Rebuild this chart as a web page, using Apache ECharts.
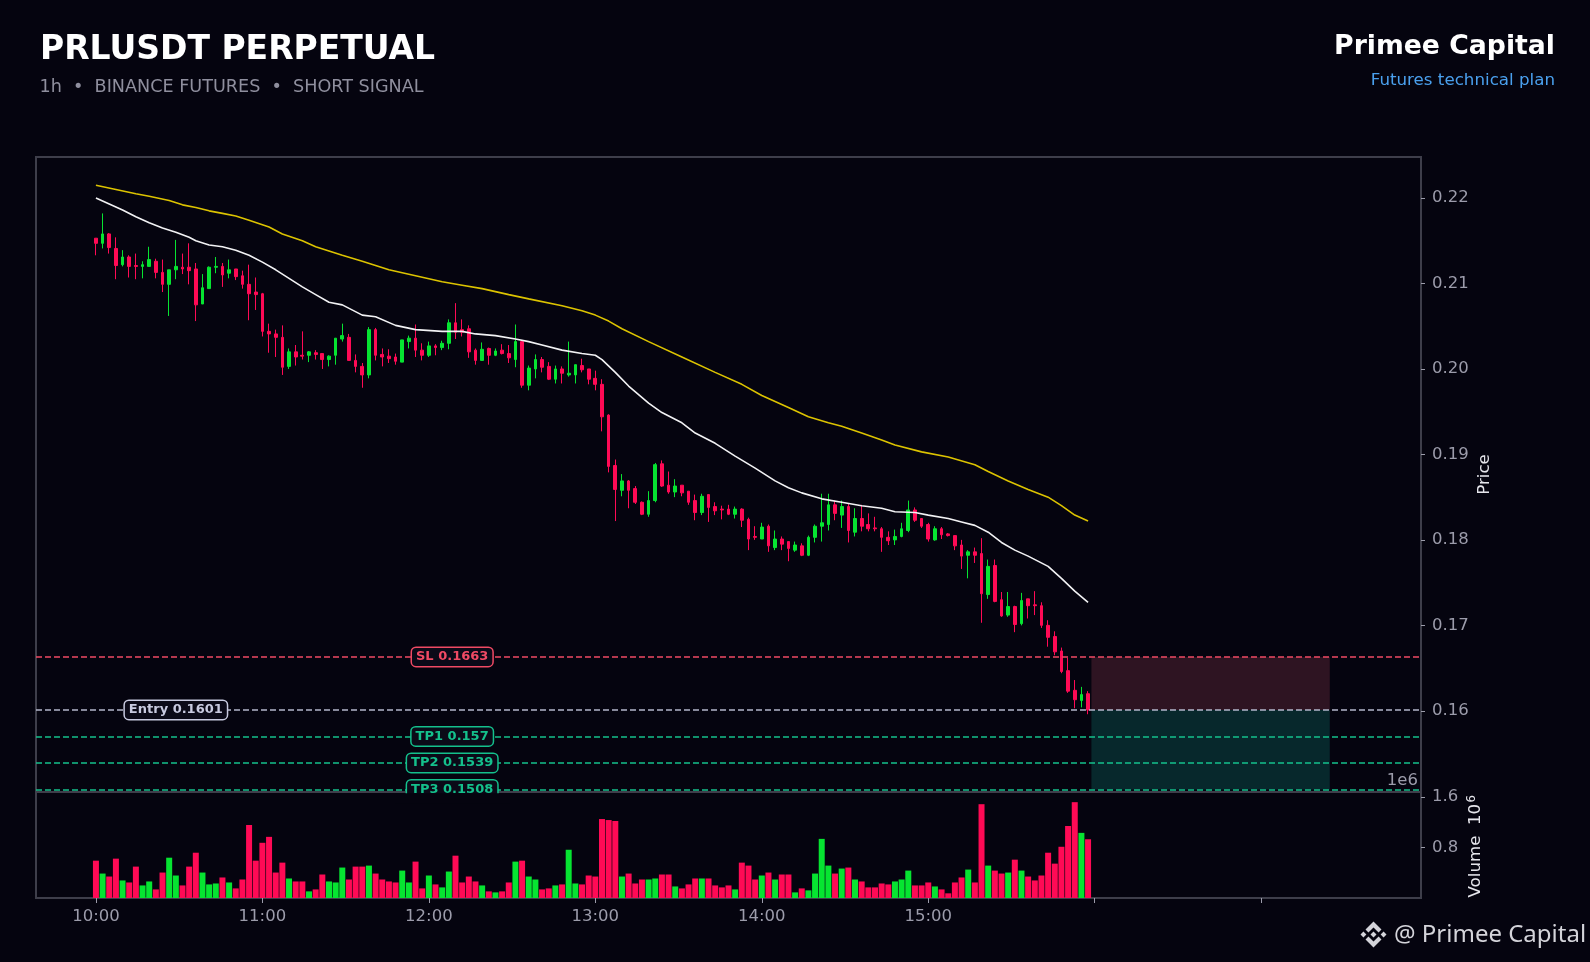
<!DOCTYPE html>
<html>
<head>
<meta charset="utf-8">
<title>PRLUSDT PERPETUAL</title>
<script src="https://cdn.jsdelivr.net/npm/echarts@6.0.0/dist/echarts.min.js"></script>
<style>
html,body{margin:0;padding:0;background:#05040f;}
#chart{width:1590px;height:962px;}
</style>
</head>
<body>
<div id="chart"></div>
<script>
var BG = '#05040f';
var UP = '#06e431';
var DOWN = '#ff0a55';
var FRAME = '#3e3e4a';
var AXIS_TXT = '#9c9cab';
var FONT = '"DejaVu Sans", sans-serif';

// ---- data (1h candles, index 0 = 10:00) ----
var timeLabels = ['10:00', '11:00', '12:00', '13:00', '14:00', '15:00'];
var hourTicks = [0, 25, 50, 75, 100, 125, 150, 175];
var labelTicks = [0, 25, 50, 75, 100, 125];
var priceTicks = [0.16, 0.17, 0.18, 0.19, 0.20, 0.21, 0.22];
var volumeTicks = [0.8, 1.6];

var openP = [
  .2153,.2147,.2158,.2141,.2122,.2131,.2121,.2120,.2120,.2126,
  .2113,.2099,.2116,.2119,.2119,.2117,.2076,.2094,.2119,.2120,
  .2112,.2117,.2109,.2099,.2090,.2088,.2044,.2041,.2037,.2003,
  .2020,.2016,.2016,.2019,.2018,.2011,.2016,.2035,.2037,.2010,
  .2003,.1993,.2046,.2017,.2015,.2014,.2008,.2032,.2036,.2022,
  .2016,.2027,.2025,.2030,.2054,.2046,.2047,.2022,.2010,.2024,
  .2016,.2022,.2018,.2011,.2032,.1981,.2000,.2011,.2003,.1988,
  .2000,.1993,.1993,.2004,.2000,.1989,.1982,.1946,.1887,.1858,
  .1869,.1860,.1844,.1830,.1846,.1889,.1864,.1856,.1864,.1857,
  .1846,.1832,.1853,.1839,.1836,.1836,.1830,.1836,.1824,.1804,
  .1801,.1816,.1791,.1801,.1798,.1788,.1793,.1782,.1803,.1816,
  .1818,.1841,.1829,.1839,.1809,.1825,.1818,.1814,.1813,.1803,
  .1800,.1804,.1811,.1835,.1825,.1818,.1800,.1813,.1807,.1805,
  .1794,.1782,.1786,.1784,.1736,.1770,.1730,.1712,.1722,.1702,
  .1731,.1724,.1723,.1700,.1687,.1670,.1647,.1624,.1612,.1620
];
var highP = [
  .2153,.2182,.2159,.2154,.2139,.2133,.2135,.2126,.2143,.2129,
  .2128,.2116,.2151,.2135,.2147,.2124,.2111,.2120,.2131,.2124,
  .2128,.2117,.2115,.2122,.2107,.2089,.2053,.2046,.2051,.2024,
  .2028,.2044,.2021,.2022,.2018,.2016,.2036,.2053,.2041,.2017,
  .2007,.2049,.2048,.2024,.2023,.2018,.2034,.2039,.2052,.2030,
  .2032,.2029,.2033,.2058,.2077,.2058,.2051,.2024,.2031,.2025,
  .2024,.2029,.2028,.2052,.2032,.2004,.2017,.2014,.2008,.2004,
  .2003,.2032,.2005,.2012,.2000,.1998,.1988,.1947,.1894,.1877,
  .1870,.1863,.1845,.1857,.1890,.1893,.1880,.1871,.1864,.1857,
  .1853,.1854,.1853,.1844,.1840,.1841,.1839,.1837,.1826,.1816,
  .1820,.1818,.1811,.1804,.1798,.1798,.1796,.1805,.1818,.1854,
  .1854,.1846,.1846,.1843,.1837,.1841,.1831,.1827,.1815,.1810,
  .1812,.1820,.1846,.1838,.1825,.1820,.1816,.1815,.1808,.1805,
  .1800,.1788,.1791,.1802,.1777,.1777,.1739,.1739,.1723,.1738,
  .1731,.1740,.1727,.1706,.1693,.1674,.1662,.1636,.1628,.1623
];
var lowP = [
  .2133,.2141,.2135,.2105,.2120,.2107,.2105,.2106,.2120,.2106,
  .2090,.2062,.2105,.2111,.2099,.2056,.2076,.2094,.2112,.2096,
  .2106,.2104,.2094,.2057,.2069,.2038,.2019,.2014,.1993,.2000,
  .2004,.2011,.2008,.2011,.2000,.2003,.2005,.2032,.2010,.1996,
  .1978,.1989,.2010,.2003,.2007,.2005,.2008,.2024,.2014,.2010,
  .2014,.2016,.2022,.2023,.2035,.2038,.2013,.2005,.2010,.2005,
  .2015,.2017,.2007,.2002,.1978,.1975,.1989,.1996,.1987,.1983,
  .1983,.1991,.1983,.1996,.1982,.1975,.1927,.1879,.1822,.1851,
  .1837,.1842,.1829,.1827,.1844,.1862,.1854,.1850,.1851,.1841,
  .1823,.1829,.1821,.1829,.1824,.1829,.1825,.1815,.1788,.1800,
  .1801,.1786,.1788,.1788,.1775,.1786,.1781,.1781,.1797,.1798,
  .1811,.1823,.1814,.1797,.1804,.1810,.1810,.1810,.1786,.1794,
  .1794,.1803,.1809,.1821,.1814,.1798,.1799,.1801,.1804,.1788,
  .1766,.1755,.1773,.1703,.1731,.1727,.1710,.1710,.1692,.1700,
  .1708,.1712,.1697,.1675,.1665,.1644,.1621,.1603,.1604,.1596
];
var closeP = [
  .2147,.2158,.2142,.2121,.2131,.2120,.2120,.2122,.2128,.2113,
  .2099,.2116,.2120,.2117,.2115,.2075,.2095,.2119,.2120,.2110,
  .2116,.2108,.2099,.2088,.2087,.2044,.2041,.2037,.2002,.2020,
  .2014,.2015,.2020,.2017,.2011,.2015,.2036,.2039,.2010,.2003,
  .1993,.2046,.2016,.2014,.2012,.2009,.2034,.2036,.2022,.2016,
  .2027,.2025,.2030,.2054,.2043,.2043,.2020,.2010,.2023,.2016,
  .2021,.2018,.2013,.2032,.1981,.2001,.2011,.2002,.1988,.2000,
  .1995,.1995,.2005,.1999,.1988,.1982,.1944,.1886,.1859,.1869,
  .1858,.1844,.1830,.1846,.1888,.1863,.1856,.1863,.1855,.1844,
  .1832,.1851,.1838,.1834,.1835,.1830,.1836,.1823,.1801,.1803,
  .1815,.1793,.1801,.1795,.1790,.1794,.1782,.1803,.1816,.1820,
  .1841,.1831,.1839,.1811,.1825,.1816,.1813,.1813,.1803,.1799,
  .1804,.1813,.1835,.1823,.1816,.1801,.1813,.1806,.1805,.1793,
  .1781,.1786,.1782,.1737,.1769,.1728,.1711,.1722,.1701,.1729,
  .1723,.1723,.1700,.1686,.1669,.1646,.1623,.1613,.1619,.1601
];
// volume in millions
var volumeM = [
  .591,.387,.340,.623,.278,.246,.497,.199,.262,.136,
  .403,.638,.356,.199,.497,.717,.403,.215,.230,.325,
  .246,.152,.293,1.156,.591,.874,.968,.403,.560,.309,
  .262,.262,.105,.136,.372,.262,.246,.482,.293,.497,
  .497,.513,.387,.293,.262,.246,.434,.246,.576,.152,
  .356,.215,.168,.419,.670,.246,.340,.262,.199,.105,
  .089,.105,.246,.576,.591,.340,.293,.136,.152,.199,
  .215,.764,.230,.215,.356,.340,1.250,1.234,1.219,.340,
  .387,.230,.293,.293,.309,.372,.372,.183,.152,.215,
  .309,.309,.309,.199,.168,.199,.136,.560,.513,.293,
  .356,.403,.293,.372,.372,.089,.152,.121,.387,.936,
  .513,.387,.466,.482,.293,.262,.168,.168,.230,.215,
  .262,.293,.434,.199,.199,.246,.183,.136,.074,.246,
  .325,.450,.246,1.485,.513,.434,.387,.403,.607,.434,
  .340,.278,.356,.717,.544,.811,1.140,1.517,1.031,.930
];

// moving averages (white = fast, yellow = slow), read at candle indexes
var emaFastIdx = [0,2,4,6,8,10,12,14,15,17,19,21,23,25,27,29,31,33,35,37,40,42,45,48,52,55,57,60,63,65,67,70,73,75,76,78,80,83,85,88,90,93,96,99,102,104,106,109,112,115,118,120,123,125,128,130,132,134,136,138,140,143,145,147,149];
var emaFastVal = [.2200,.2193,.2186,.2178,.2171,.2165,.2160,.2154,.2150,.2145,.2143,.2139,.2133,.2125,.2116,.2106,.2096,.2087,.2078,.2075,.2063,.2061,.2051,.2046,.2044,.2044,.2041,.2039,.2035,.2032,.2028,.2022,.2018,.2016,.2011,.1996,.1980,.1960,.1949,.1937,.1925,.1913,.1898,.1884,.1869,.1861,.1855,.1848,.1844,.1840,.1837,.1833,.1832,.1829,.1825,.1821,.1817,.1809,.1797,.1788,.1781,.1769,.1755,.1740,.1727];
var emaSlowIdx = [0,3,6,8,11,13,15,17,19,21,23,26,28,31,33,35,37,40,44,48,52,55,58,62,65,70,73,75,77,79,83,88,93,97,100,104,107,110,112,115,118,120,124,128,132,134,137,140,143,145,147,149];
var emaSlowVal = [.2215,.2210,.2205,.2202,.2197,.2192,.2189,.2185,.2182,.2179,.2174,.2166,.2158,.2150,.2143,.2138,.2133,.2126,.2116,.2109,.2102,.2098,.2094,.2087,.2082,.2074,.2068,.2063,.2056,.2047,.2032,.2014,.1996,.1982,.1969,.1955,.1944,.1937,.1933,.1925,.1917,.1911,.1903,.1897,.1888,.1880,.1869,.1859,.1850,.1840,.1829,.1822];

// trade plan
var levelSL = 0.1663;
var levelEntry = 0.1601;
var levelTP1 = 0.157;
var levelTP2 = 0.1539;
var levelTP3 = 0.1508;

// ---- layout ----
var zoneFrom = 149.5, zoneTo = 185.3;
var planLabelX = 53.5, entryLabelX = 12;
var C_SL = '#f04a64', C_ENTRY = '#b4b6cc', C_TP = '#14c08c';

var candles = openP.map(function (o, i) {
  return [i, o, closeP[i], lowP[i], highP[i]];
});
var vols = volumeM.map(function (v, i) {
  return { value: [i, v], itemStyle: { color: closeP[i] >= openP[i] ? UP : DOWN } };
});
var fastLine = emaFastIdx.map(function (x, k) { return [x, emaFastVal[k]]; });
var slowLine = emaSlowIdx.map(function (x, k) { return [x, emaSlowVal[k]]; });

function planLabel(x, y, text, color) {
  return {
    value: [x, y],
    label: {
      show: true, position: 'inside', formatter: text, opacity: 1,
      color: color, fontFamily: FONT, fontWeight: 'bold', fontSize: 13,
      backgroundColor: '#0b0a18', borderColor: color, borderWidth: 1.5,
      borderRadius: 4, padding: [3, 4, 2, 4]
    }
  };
}

function levelLine(y, color) {
  return { yAxis: y, lineStyle: { color: color, width: 1.5, type: [6, 3] } };
}

// binance style mark of the watermark
var logoParts = [
  [[38.73,53.2],[63.3,28.64],[87.89,53.22],[102.19,38.92],[63.3,0],[24.42,38.9]],
  [[0,63.31],[14.3,49.01],[28.6,63.31],[14.3,77.61]],
  [[98,63.31],[112.3,49.01],[126.6,63.31],[112.3,77.61]],
  [[38.73,73.41],[63.3,97.99],[87.89,73.4],[102.2,87.69],[63.3,126.6],[24.42,87.71]],
  [[77.83,63.3],[63.3,48.76],[48.77,63.29],[63.3,77.83]]
];
var logoScale = 26 / 126.6;
var logo = logoParts.map(function (pts) {
  return {
    type: 'polygon', z: 100,
    shape: { points: pts.map(function (p) { return [1360.5 + p[0] * logoScale, 921.5 + p[1] * logoScale]; }) },
    style: { fill: '#d4d4da' }
  };
});

var chart = echarts.init(document.getElementById('chart'));
var option = {
  backgroundColor: BG,
  animation: false,
  textStyle: { fontFamily: FONT },
  grid: [
    { left: 36, right: 169, top: 157, height: 635, show: true, borderColor: FRAME, borderWidth: 2, backgroundColor: 'transparent' },
    { left: 36, right: 169, top: 792, height: 106, show: true, borderColor: FRAME, borderWidth: 2, backgroundColor: 'transparent' }
  ],
  xAxis: [
    {
      type: 'value', gridIndex: 0, min: -9, max: 199,
      axisLine: { show: false, onZero: false }, axisTick: { show: false }, axisLabel: { show: false }, splitLine: { show: false }
    },
    {
      type: 'value', gridIndex: 1, min: -9, max: 199,
      axisLine: { show: false, onZero: false }, splitLine: { show: false },
      axisTick: { show: true, customValues: hourTicks, length: 5, lineStyle: { color: AXIS_TXT, width: 1 } },
      axisLabel: {
        customValues: labelTicks, color: AXIS_TXT, fontSize: 16.5, margin: 10,
        formatter: function (v) { return timeLabels[Math.round(v / 25)]; }
      }
    }
  ],
  yAxis: [
    {
      type: 'value', gridIndex: 0, position: 'right', min: 0.1505, max: 0.2248,
      axisLine: { show: false, onZero: false }, splitLine: { show: false },
      axisTick: { show: true, customValues: priceTicks, length: 4, lineStyle: { color: AXIS_TXT } },
      axisLabel: { customValues: priceTicks, color: AXIS_TXT, fontSize: 16.5, margin: 11,
        formatter: function (v) { return v.toFixed(2); } }
    },
    {
      type: 'value', gridIndex: 1, position: 'right', min: 0, max: 1.678,
      axisLine: { show: false, onZero: false }, splitLine: { show: false },
      axisTick: { show: true, customValues: volumeTicks, length: 4, lineStyle: { color: AXIS_TXT } },
      axisLabel: { customValues: volumeTicks, color: AXIS_TXT, fontSize: 16.5, margin: 11,
        formatter: function (v) { return v.toFixed(1); } }
    }
  ],
  series: [
    {
      type: 'candlestick', name: 'PRLUSDT', xAxisIndex: 0, yAxisIndex: 0,
      data: candles, barWidth: 3.2,
      itemStyle: { color: UP, color0: DOWN, borderColor: UP, borderColor0: DOWN, borderWidth: 1 },
      markArea: {
        silent: true,
        data: [
          [{ coord: [zoneFrom, levelSL], itemStyle: { color: '#2e1422' } }, { coord: [zoneTo, levelEntry] }],
          [{ coord: [zoneFrom, levelEntry], itemStyle: { color: '#07282c' } }, { coord: [zoneTo, levelTP3] }]
        ]
      }
    },
    {
      type: 'line', name: 'EMA slow', xAxisIndex: 0, yAxisIndex: 0, data: slowLine,
      showSymbol: false, symbol: 'none', lineStyle: { color: '#dcc300', width: 1.6 }
    },
    {
      type: 'line', name: 'EMA fast', xAxisIndex: 0, yAxisIndex: 0, data: fastLine,
      showSymbol: false, symbol: 'none', lineStyle: { color: '#f2f2f4', width: 1.6 },
      markLine: {
        silent: true, symbol: 'none', precision: 4, label: { show: false },
        data: [
          levelLine(levelTP3, C_TP),
          levelLine(levelTP2, C_TP),
          levelLine(levelTP1, C_TP),
          levelLine(levelEntry, C_ENTRY),
          levelLine(levelSL, C_SL)
        ]
      }
    },
    {
      type: 'scatter', name: 'plan', xAxisIndex: 0, yAxisIndex: 0, z: 6,
      symbolSize: 1, itemStyle: { color: 'rgba(0,0,0,0)', opacity: 1 }, silent: true,
      data: [
        planLabel(planLabelX, levelSL, 'SL ' + levelSL, C_SL),
        planLabel(entryLabelX, levelEntry, 'Entry ' + levelEntry, '#c8cae0'),
        planLabel(planLabelX, levelTP1, 'TP1 ' + levelTP1, C_TP),
        planLabel(planLabelX, levelTP2, 'TP2 ' + levelTP2, C_TP),
        planLabel(planLabelX, levelTP3, 'TP3 ' + levelTP3, C_TP)
      ]
    },
    {
      type: 'bar', name: 'Volume', xAxisIndex: 1, yAxisIndex: 1,
      data: vols, barWidth: 6
    }
  ],
  graphic: [
    // the TP3 tag is cut by the bottom of the price panel
    { type: 'rect', z: 100, shape: { x: 395, y: 793.2, width: 115, height: 10 }, style: { fill: BG } },
    { type: 'text', x: 40, y: 50.5, z: 100,
      style: { text: 'PRLUSDT PERPETUAL', font: 'bold 33px ' + FONT, fill: '#ffffff', align: 'left', verticalAlign: 'middle' } },
    { type: 'text', x: 39.5, y: 87.8, z: 100,
      style: { text: '1h  \u2022  BINANCE FUTURES  \u2022  SHORT SIGNAL', font: '17.6px ' + FONT, fill: '#8f8f9e', align: 'left', verticalAlign: 'middle' } },
    { type: 'text', x: 1555, y: 47.2, z: 100,
      style: { text: 'Primee Capital', font: 'bold 26.7px ' + FONT, fill: '#ffffff', align: 'right', verticalAlign: 'middle' } },
    { type: 'text', x: 1555, y: 80.8, z: 100,
      style: { text: 'Futures technical plan', font: '16.7px ' + FONT, fill: '#4aa0ee', align: 'right', verticalAlign: 'middle' } },
    { type: 'text', x: 1485, y: 474.5, rotation: Math.PI / 2, z: 100,
      style: { text: 'Price', font: '16.7px ' + FONT, fill: '#e6e6ec', align: 'center', verticalAlign: 'middle' } },
    { type: 'text', x: 1475.5, y: 897.5, rotation: Math.PI / 2, z: 100,
      style: { text: 'Volume', font: '16.7px ' + FONT, fill: '#e6e6ec', align: 'left', verticalAlign: 'middle' } },
    { type: 'text', x: 1475.5, y: 825, rotation: Math.PI / 2, z: 100,
      style: { text: '10', font: '16.7px ' + FONT, fill: '#e6e6ec', align: 'left', verticalAlign: 'middle' } },
    { type: 'text', x: 1471.5, y: 802.5, rotation: Math.PI / 2, z: 100,
      style: { text: '6', font: '11.7px ' + FONT, fill: '#e6e6ec', align: 'left', verticalAlign: 'middle' } },
    { type: 'text', x: 1418, y: 781, z: 100,
      style: { text: '1e6', font: '16.5px ' + FONT, fill: AXIS_TXT, align: 'right', verticalAlign: 'middle' } },
    { type: 'text', x: 1394, y: 935, z: 100,
      style: { text: '@ Primee Capital', font: '24px "Noto Sans", sans-serif', fill: '#d4d4da', align: 'left', verticalAlign: 'middle' } }
  ].concat(logo)
};
chart.setOption(option);
</script>
</body>
</html>
